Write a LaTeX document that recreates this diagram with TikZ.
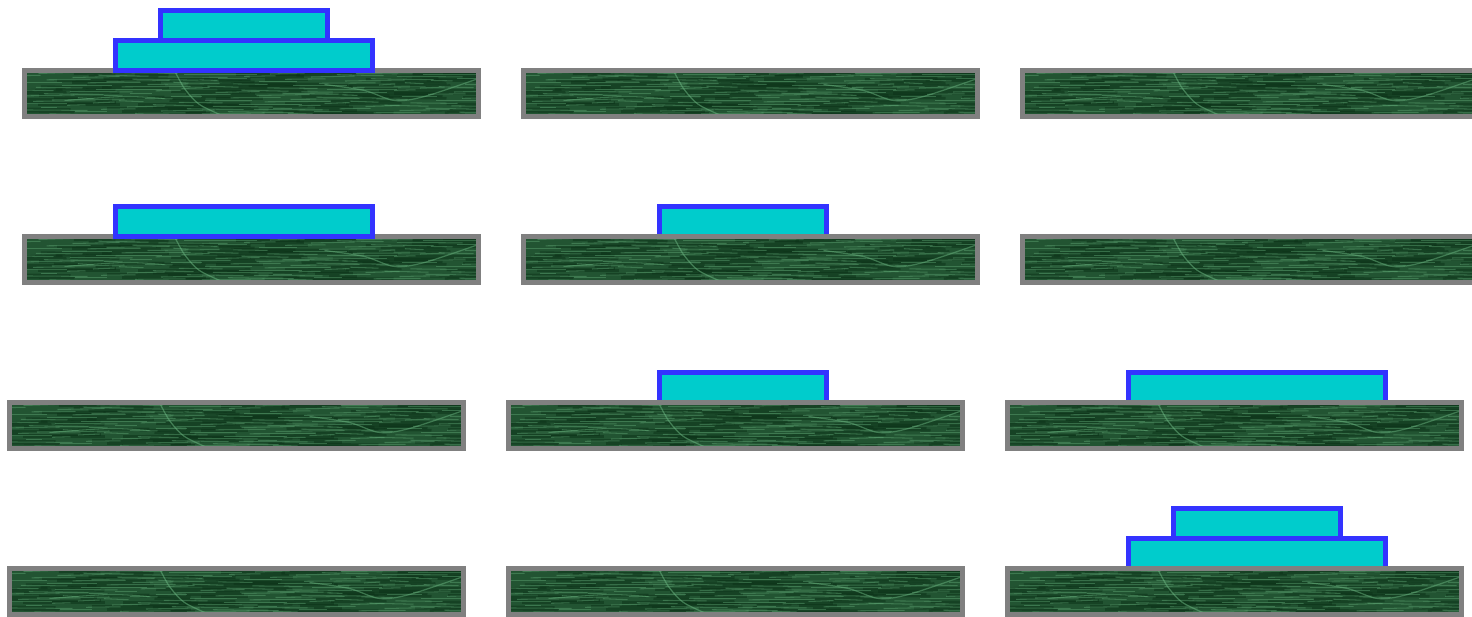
\documentclass[tikz,border=0pt]{standalone}
\usetikzlibrary{calc}

\definecolor{baseGray}{RGB}{128,128,128}
\definecolor{diskBlue}{RGB}{51,51,255}
\definecolor{diskCyan}{RGB}{0,204,204}
\definecolor{marbleDark}{RGB}{34,84,50}
\definecolor{marbleDeep}{RGB}{12,50,24}
\definecolor{marbleLight}{RGB}{104,178,126}

% streaky marble look inside every base (coordinates measured from the node centre)
\newcommand{\marblestreaks}{%
    \foreach \k in {1,...,90}{
      \pgfmathsetmacro{\sx}{mod(\k*97.3,470)-247}
      \pgfmathsetmacro{\sy}{mod(\k*17.9,48)-24}
      \pgfmathsetmacro{\sl}{25+mod(\k*41.7,90)}
      \draw[marbleDeep, opacity=0.5, line width=1.6pt] (\sx,\sy) -- ++(\sl,{mod(\k,3)-1});
    }
    \foreach \k in {1,...,130}{
      \pgfmathsetmacro{\sx}{mod(\k*83.1,470)-247}
      \pgfmathsetmacro{\sy}{mod(\k*13.3,48)-24}
      \pgfmathsetmacro{\sl}{15+mod(\k*37.9,60)}
      \draw[marbleLight, opacity=0.4, line width=0.6pt] (\sx,\sy) -- ++(\sl,{mod(\k,5)/2-1});
    }
    % veins
    \draw[marbleLight, opacity=0.55, line width=0.7pt]
      plot[smooth] coordinates {(-77,-23) (-67,-5) (-52,11) (-27,23)};
    \draw[marbleLight, opacity=0.5, line width=0.7pt]
      plot[smooth] coordinates {(73,-9) (113,-3) (143,7) (173,3) (227,-15)};
    \draw[marbleLight, opacity=0.45, line width=0.6pt]
      plot[smooth] coordinates {(-187,7) (-127,3) (-87,5)};
}

\begin{document}
\begin{tikzpicture}[
    x=0.02cm, y=-0.02cm,
    line width=0.1cm,
    every node/.style={inner sep=0pt, outer sep=0pt},
    basebox/.style={draw=baseGray, fill=marbleDark, minimum width=9.08cm, minimum height=0.92cm,
        path picture={\marblestreaks}},
    bigdisk/.style={draw=diskBlue, fill=diskCyan, minimum width=5.14cm, minimum height=0.6cm},
    smalldisk/.style={draw=diskBlue, fill=diskCyan, minimum width=3.34cm, minimum height=0.6cm}
]

\useasboundingbox (0,0) rectangle (1472,616);

% -------------------------------------------------
% ROW 1
% -------------------------------------------------
\node[basebox] (B11) at (251.5,93.5) {};
\node[basebox] (B12) at (750.5,93.5) {};
\node[basebox] (B13) at (1249.5,93.5) {};
\node[bigdisk] (D11) at (244,55.5) {};
\node[smalldisk] (S11) at (244,25.5) {};

% -------------------------------------------------
% ROW 2
% -------------------------------------------------
\node[basebox] (B21) at (251.5,259.5) {};
\node[bigdisk] (D21) at (244,221.5) {};
\node[smalldisk] (S22) at (743,221.5) {};
\node[basebox] (B22) at (750.5,259.5) {};
\node[basebox] (B23) at (1249.5,259.5) {};

% -------------------------------------------------
% ROW 3
% -------------------------------------------------
\node[basebox] (B31) at (236.5,425.5) {};
\node[smalldisk] (S32) at (743,387.5) {};
\node[basebox] (B32) at (735.5,425.5) {};
\node[bigdisk] (D33) at (1257,387.5) {};
\node[basebox] (B33) at (1234.5,425.5) {};

% -------------------------------------------------
% ROW 4
% -------------------------------------------------
\node[basebox] (B41) at (236.5,591.5) {};
\node[basebox] (B42) at (735.5,591.5) {};
\node[bigdisk] (D43) at (1257,553.5) {};
\node[smalldisk] (S43) at (1257,523.5) {};
\node[basebox] (B43) at (1234.5,591.5) {};

\end{tikzpicture}
\end{document}
